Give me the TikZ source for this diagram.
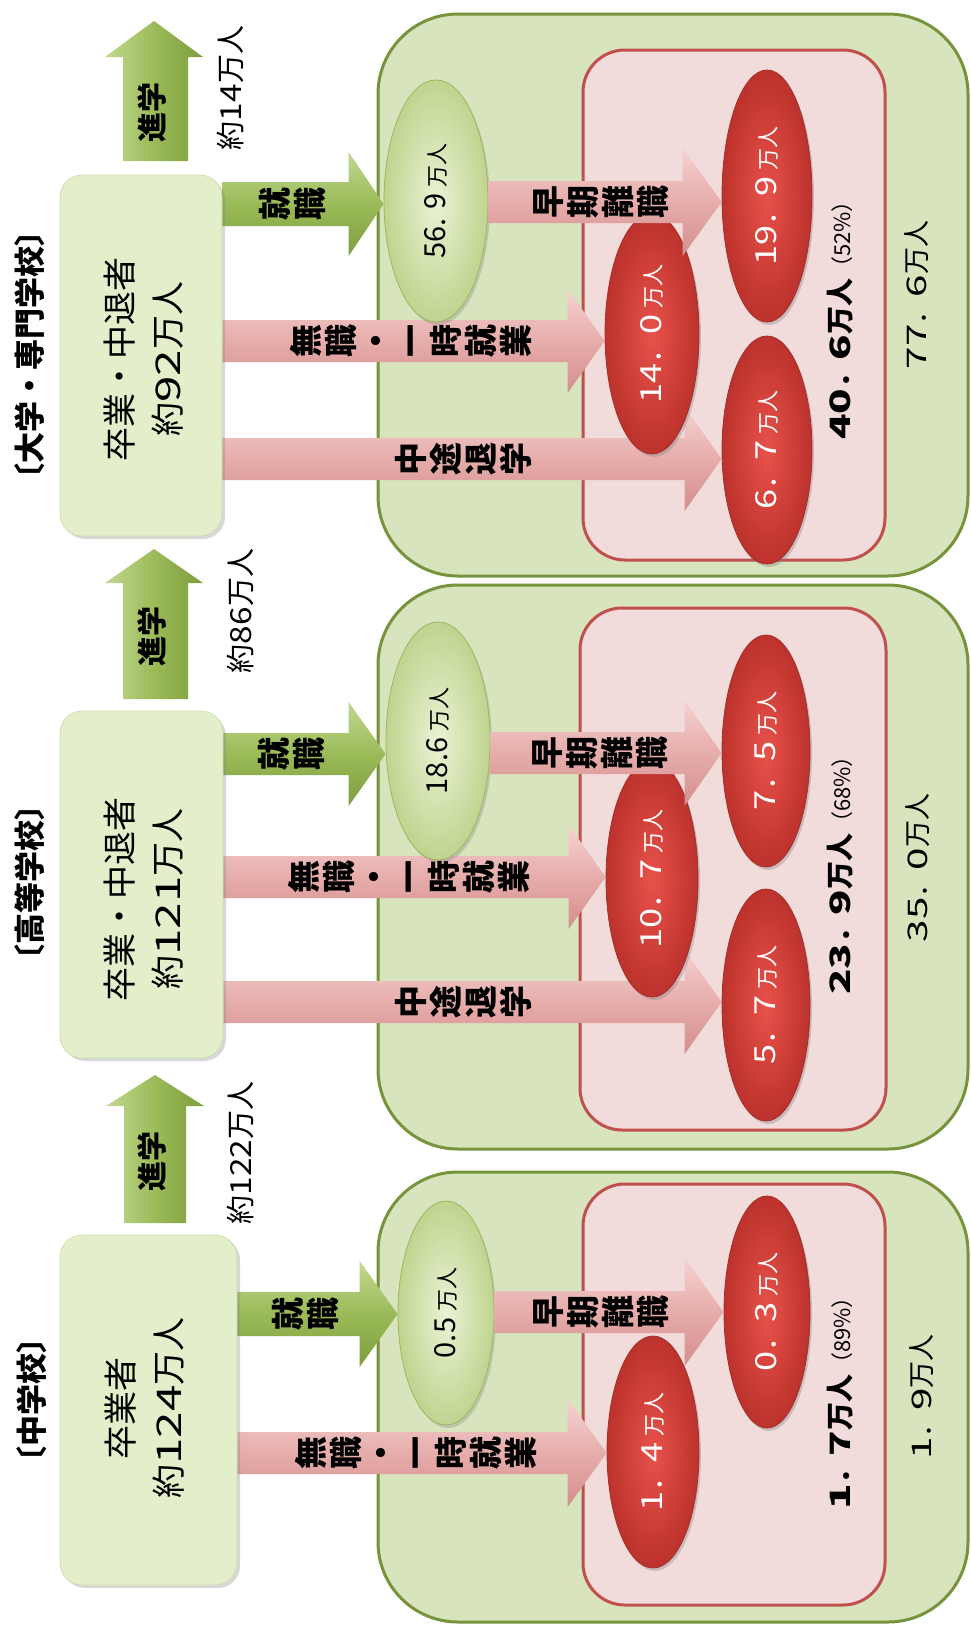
\documentclass[tikz,border=0pt]{standalone}
\usepackage{fontspec}
\setmainfont{Noto Sans CJK JP}
\usepackage{graphicx}
\usetikzlibrary{shapes.geometric,calc,shadows}
\pgfdeclarelayer{back}\pgfdeclarelayer{mid}\pgfdeclarelayer{front}\pgfdeclarelayer{toplayer}
\pgfsetlayers{back,mid,main,front,toplayer}

\definecolor{outerfill}{HTML}{D7E4BD}
\definecolor{outerdraw}{HTML}{77933C}
\definecolor{pinkfill}{HTML}{F2DCDB}
\definecolor{pinkdraw}{HTML}{C0504D}
\definecolor{srcfill}{HTML}{E3EFCA}
\definecolor{srcdraw}{HTML}{C9DCA6}
\definecolor{garrowlight}{HTML}{C2D890}
\definecolor{garrowbase}{HTML}{9BBB59}
\definecolor{garrowdark}{HTML}{7E9E3E}
\definecolor{parrowlight}{HTML}{F4D2D1}
\definecolor{parrowbase}{HTML}{E6ADAB}
\definecolor{parrowdark}{HTML}{D38E8C}
\definecolor{redin}{HTML}{E8524B}
\definecolor{redout}{HTML}{BC322C}
\definecolor{reddraw}{HTML}{A52F2A}
\definecolor{gellin}{HTML}{EAF3D5}
\definecolor{gellout}{HTML}{BFD48F}
\definecolor{gelldraw}{HTML}{9BB85F}

\newcommand\fs[2]{\fontsize{#1pt}{#2pt}\selectfont}
\newcommand\sd[2][1.4]{\scalebox{#1}[1]{#2}}
\newcommand\harrow[7]{\path[#1] let \p1=#2, \p2=#3, \p3=(0,#4) in
  (\x1,\y3+#5) -- (\x2-#7,\y3+#5) -- (\x2-#7,\y3+#6) -- (\x2,\y3) -- (\x2-#7,\y3-#6) -- (\x2-#7,\y3-#5) -- (\x1,\y3-#5) -- cycle;}
\newcommand\gtxt[1]{\rotatebox{90}{\color{black}\fs{29}{29}#1\hspace{6pt}\fs{22}{22}万人}}
\newcommand\rtxt[2]{\rotatebox{90}{\fs{29}{29}\sd[1.25]{#1}．\sd[1.25]{#2}\hspace{6pt}\fs{22}{22}万人}}

\tikzset{
 outerbox/.style={fill=outerfill, draw=outerdraw, line width=3pt, rounded corners=80pt},
 pinkbox/.style={fill=pinkfill, draw=pinkdraw, line width=3pt, rounded corners=42pt},
 srcbox/.style={rectangle, rounded corners=22pt, fill=srcfill, draw=srcdraw, line width=0.6pt, inner sep=0pt, drop shadow={shadow xshift=3pt, shadow yshift=-3pt, opacity=0.3}},
 gell/.style={ellipse, inner sep=0pt, draw=gelldraw, line width=0.8pt, inner color=gellin, outer color=gellout, drop shadow={shadow xshift=2pt, shadow yshift=-3pt, opacity=0.3}},
 rell/.style={ellipse, inner sep=0pt, draw=reddraw, line width=0.8pt, inner color=redin, outer color=redout, text=white, drop shadow={shadow xshift=2pt, shadow yshift=-3pt, opacity=0.35}},
 garrow/.style={top color=garrowlight, bottom color=garrowdark, middle color=garrowbase},
 parrow/.style={top color=parrowlight, bottom color=parrowdark, middle color=parrowbase},
 gvarrow/.style={left color=garrowlight, right color=garrowdark, middle color=garrowbase},
 stacklabel/.style={rotate=90, align=center, inner sep=0pt, font=\bfseries\fs{33}{35}},
 rlabel/.style={rotate=90, inner sep=0pt},
}

\begin{document}
\begin{tikzpicture}[x=1pt,y=-1pt]
\useasboundingbox (0,0) rectangle (971,1628);

\begin{pgfonlayer}{back}
 \fill[white] (0,0) rectangle (971,1628);
 \path[outerbox] (378,14) rectangle (968,576);
 \path[pinkbox] (583,50) rectangle (885,560);
 \path[outerbox] (378,585) rectangle (968,1149);
 \path[pinkbox] (580,608) rectangle (886,1130);
 \path[outerbox] (378,1172) rectangle (968,1622);
 \path[pinkbox] (583,1184) rectangle (885,1605);
\end{pgfonlayer}

% ===== TOP: university =====
\node[rlabel, font=\bfseries\fs{31}{31}] (headT) at (30,355) {〔大学・専門学校〕};
\node[srcbox, minimum width=162pt, minimum height=361pt] (srcT) at (141,355.5) {};
\node[gell, minimum width=104pt, minimum height=242pt] (gT) at (436,201) {\gtxt{56. 9}};
\node[rell, minimum width=90pt, minimum height=252pt] (r199T) at (767,196) {\rtxt{19}{9}};
\node[rell, minimum width=94pt, minimum height=240pt] (r140T) at (652,334) {\rtxt{14}{0}};
\node[rell, minimum width=90pt, minimum height=228pt] (r67T) at (767,450) {\rtxt{6}{7}};

% ===== MIDDLE: high school =====
\node[rlabel, font=\bfseries\fs{31}{31}] (headM) at (30,882) {〔高等学校〕};
\node[srcbox, minimum width=163pt, minimum height=347pt] (srcM) at (141.5,884.5) {};
\node[gell, minimum width=104pt, minimum height=238pt] (gM) at (438,741) {\gtxt{18.6}};
\node[rell, minimum width=88pt, minimum height=232pt] (r75M) at (766,751) {\rtxt{7}{5}};
\node[rell, minimum width=92pt, minimum height=236pt] (r107M) at (652,879) {\rtxt{10}{7}};
\node[rell, minimum width=88pt, minimum height=232pt] (r57M) at (766,1005) {\rtxt{5}{7}};

% ===== BOTTOM: junior high =====
\node[rlabel, font=\bfseries\fs{31}{31}] (headB) at (32,1400) {〔中学校〕};
\node[srcbox, minimum width=177pt, minimum height=350pt] (srcB) at (148.5,1410) {};
\node[gell, minimum width=96pt, minimum height=224pt] (gB) at (446,1313) {\gtxt{0.5}};
\node[rell, minimum width=86pt, minimum height=232pt] (r03B) at (767,1312) {\rtxt{0}{3}};
\node[rell, minimum width=92pt, minimum height=232pt] (r14B) at (653,1452) {\rtxt{1}{4}};

\begin{pgfonlayer}{mid}
 % top
 \harrow{parrow}{(srcT.east)}{(r67T.west)}{459}{21pt}{52pt}{37pt}
 \harrow{parrow}{(srcT.east)}{(r140T.west)}{341}{21pt}{52pt}{37pt}
 \harrow{garrow}{(srcT.east)}{(gT.west)}{204}{22pt}{52pt}{35pt}
 \path[gvarrow] (123,161) -- (123,57) -- (105,57) -- (154,21) -- (203,57) -- (188,57) -- (188,161) -- cycle;
 % middle
 \harrow{parrow}{(srcM.east)}{(r57M.west)}{1002}{21pt}{52pt}{37pt}
 \harrow{parrow}{(srcM.east)}{(r107M.west)}{877}{21pt}{52pt}{37pt}
 \harrow{garrow}{(srcM.east)}{(gM.west)}{754}{21pt}{52pt}{37pt}
 \path[gvarrow] (123,699) -- (123,583) -- (105,583) -- (154,549) -- (203,583) -- (188,583) -- (188,699) -- cycle;
 % bottom
 \harrow{parrow}{(srcB.east)}{(r14B.west)}{1453}{21pt}{54pt}{39pt}
 \harrow{garrow}{(srcB.east)}{(gB.west)}{1314}{22pt}{53pt}{38pt}
 \path[gvarrow] (124,1223) -- (124,1106) -- (106,1106) -- (155,1075) -- (204,1106) -- (186,1106) -- (186,1223) -- cycle;
\end{pgfonlayer}

\begin{pgfonlayer}{front}
 \harrow{parrow}{(gT.east)}{(r199T.west)}{202}{21pt}{54pt}{39pt}
 \harrow{parrow}{(gM.east)}{(r75M.west)}{753}{21pt}{53pt}{37pt}
 \harrow{parrow}{(gB.east)}{(r03B.west)}{1312}{21pt}{54pt}{39pt}
\end{pgfonlayer}

\begin{pgfonlayer}{toplayer}
 % top
 \node[rlabel, align=center, font=\fs{34}{48}] (srcTt) at (144,359) {卒業・中退者\\約\sd{92}万人};
 \node[stacklabel] (lblJT) at (292,204) {就\\職};
 \node[stacklabel] (lblST) at (601,202) {早\\期\\離\\職};
 \node[stacklabel] (lblMT) at (411,341) {無\\職\\・\\一\\時\\就\\業};
 \node[stacklabel] (lblCT) at (463,459) {中\\途\\退\\学};
 \node[rlabel, font=\bfseries\fs{30}{30}] (lblShT) at (152,112) {進学};
 \node[rlabel, font=\fs{29}{29}] (numT) at (230,88) {約\sd[1.15]{14}万人};
 \node[rlabel] (sumT) at (840,315) {{\bfseries\fs{28}{28}\sd[1.5]{40}．\sd[1.5]{6}万人}{\fs{22}{22}（52\%）}};
 \node[rlabel, font=\fs{27}{27}] (totT) at (917,295) {\sd[1.5]{77}．\sd[1.5]{6}万人};
 % middle
 \node[rlabel, align=center, font=\fs{34}{48}] (srcMt) at (144,899) {卒業・中退者\\約\sd{121}万人};
 \node[stacklabel] (lblJM) at (291,754) {就\\職};
 \node[stacklabel] (lblSM) at (600,753) {早\\期\\離\\職};
 \node[stacklabel] (lblMM) at (409,877) {無\\職\\・\\一\\時\\就\\業};
 \node[stacklabel] (lblCM) at (463,1002) {中\\途\\退\\学};
 \node[rlabel, font=\bfseries\fs{30}{30}] (lblShM) at (152,636) {進学};
 \node[rlabel, font=\fs{29}{29}] (numM) at (240,611) {約\sd[1.15]{86}万人};
 \node[rlabel] (sumM) at (840,870) {{\bfseries\fs{28}{28}\sd[1.5]{23}．\sd[1.5]{9}万人}{\fs{22}{22}（68\%）}};
 \node[rlabel, font=\fs{27}{27}] (totM) at (918,868) {\sd[1.5]{35}．\sd[1.5]{0}万人};
 % bottom
 \node[rlabel, align=center, font=\fs{34}{48}] (srcBt) at (145,1408) {卒業者\\約\sd{124}万人};
 \node[stacklabel] (lblJB) at (305,1314) {就\\職};
 \node[stacklabel] (lblSB) at (601,1312) {早\\期\\離\\職};
 \node[stacklabel] (lblMB) at (416,1453) {無\\職\\・\\一\\時\\就\\業};
 \node[rlabel, font=\bfseries\fs{30}{30}] (lblShB) at (152,1161) {進学};
 \node[rlabel, font=\fs{29}{29}] (numB) at (240,1153) {約\sd[1.15]{122}万人};
 \node[rlabel] (sumB) at (840,1398) {{\bfseries\fs{28}{28}\sd[1.5]{1}．\sd[1.5]{7}万人}{\fs{22}{22}（89\%）}};
 \node[rlabel, font=\fs{27}{27}] (totB) at (922,1397) {\sd[1.5]{1}．\sd[1.5]{9}万人};
\end{pgfonlayer}
\end{tikzpicture}
\end{document}
